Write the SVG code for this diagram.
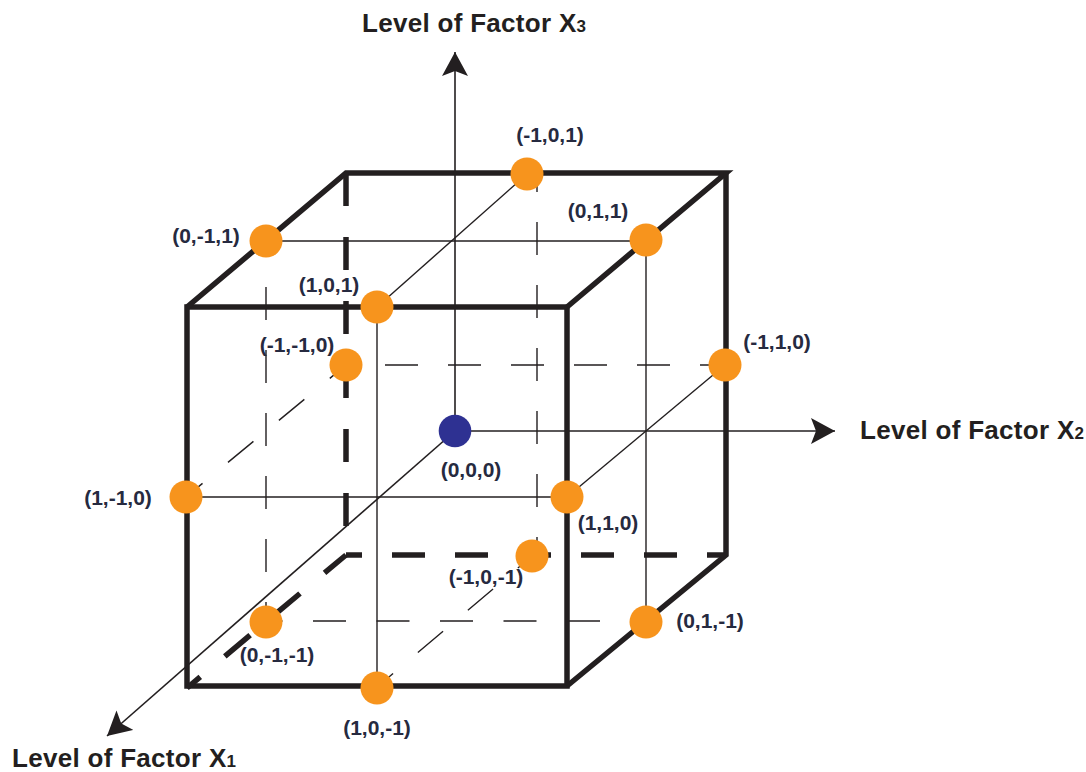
<svg xmlns="http://www.w3.org/2000/svg" width="1086" height="772" viewBox="0 0 1086 772">
  <style>
    .thin { stroke: #231f20; stroke-width: 1.4; fill: none; }
    .dash { stroke: #231f20; stroke-width: 1.4; fill: none; stroke-dasharray: 33 30; }
    .axis { stroke: #231f20; stroke-width: 1.6; fill: none; marker-end: url(#arrow); }
    .edge { stroke: #231f20; stroke-width: 5.5; fill: none; stroke-linejoin: miter; }
    .hidden { stroke: #231f20; stroke-width: 5.5; fill: none; }
    .pt { fill: #f7941d; }
    .origin { fill: #2e3192; }
    .lbl { font-family: "Liberation Sans", Arial, sans-serif; font-weight: bold; font-size: 21px; fill: #262a40; text-anchor: middle; }
    .title { font-family: "Liberation Sans", Arial, sans-serif; font-weight: bold; font-size: 26px; fill: #231f20; letter-spacing: 0.3px; }
    .sub { font-size: 17px; }
  </style>
  <defs>
    <marker id="arrow" markerUnits="userSpaceOnUse" viewBox="0 0 24 26" refX="24" refY="13" markerWidth="24" markerHeight="26" orient="auto">
      <path d="M0,0 L24,13 L0,26 L5,13 Z" fill="#231f20"/>
    </marker>
  </defs>

  <g id="connectors">
    <!-- thin solid grid lines -->
    <line class="thin" x1="266" y1="241" x2="646" y2="241"/>
    <line class="thin" x1="646" y1="241" x2="646" y2="622"/>
    <line class="thin" x1="377" y1="307" x2="377" y2="688"/>
    <line class="thin" x1="186" y1="497" x2="567" y2="497"/>
    <line class="thin" x1="527" y1="174" x2="377" y2="307"/>
    <line class="thin" x1="725" y1="365" x2="567" y2="497"/>
    <!-- thin dashed hidden grid lines -->
    <line class="dash" x1="266" y1="241" x2="266" y2="622" stroke-dashoffset="17"/>
    <line class="dash" x1="346" y1="365" x2="726" y2="365" stroke-dashoffset="24"/>
    <line class="dash" x1="537" y1="173" x2="537" y2="556" stroke-dashoffset="14"/>
    <line class="dash" x1="266" y1="621" x2="646" y2="621" stroke-dashoffset="16.5" style="stroke-dasharray:33 30.5"/>
    <line class="dash" x1="346" y1="365" x2="186" y2="497" stroke-dashoffset="12" style="stroke-dasharray:33 33"/>
    <line class="dash" x1="532" y1="556" x2="376" y2="688" stroke-dashoffset="14.5" style="stroke-dasharray:33 32.5"/>
    <!-- axes -->
    <line class="axis" x1="455" y1="431" x2="455" y2="52"/>
    <line class="axis" x1="455" y1="431" x2="835" y2="431"/>
    <line class="axis" x1="455" y1="431" x2="107" y2="736"/>
  </g>

  <g id="cube">
    <rect class="edge" x="187" y="307" width="380" height="379"/>
    <polyline class="edge" points="187,307 346,173 726,173 567,307"/>
    <polyline class="edge" points="726,173 726,555 567,686"/>
    <line class="hidden" x1="346" y1="173" x2="346" y2="555" style="stroke-dasharray:33 31"/>
    <line class="hidden" x1="346" y1="555" x2="726" y2="555" style="stroke-dasharray:33 30" stroke-dashoffset="17"/>
    <line class="hidden" x1="346" y1="555" x2="187" y2="688" style="stroke-dasharray:33 32" stroke-dashoffset="5"/>
  </g>

  <g id="p-m1-0-1"><circle class="pt" cx="527" cy="174" r="16.5"/><text class="lbl" x="550" y="142">(-1,0,1)</text></g>
  <g id="p-0-m1-1"><circle class="pt" cx="266" cy="241" r="16.5"/><text class="lbl" x="206" y="243">(0,-1,1)</text></g>
  <g id="p-0-1-1"><circle class="pt" cx="646" cy="240" r="16.5"/><text class="lbl" x="598" y="218">(0,1,1)</text></g>
  <g id="p-1-0-1"><circle class="pt" cx="377" cy="307" r="16.5"/><text class="lbl" x="329" y="292">(1,0,1)</text></g>
  <g id="p-m1-m1-0"><circle class="pt" cx="346" cy="365" r="16.5"/><text class="lbl" x="297" y="352">(-1,-1,0)</text></g>
  <g id="p-m1-1-0"><circle class="pt" cx="725" cy="365" r="16.5"/><text class="lbl" x="777" y="349">(-1,1,0)</text></g>
  <g id="p-0-0-0"><circle class="origin" cx="455" cy="431" r="16.3"/><text class="lbl" x="471" y="477">(0,0,0)</text></g>
  <g id="p-1-m1-0"><circle class="pt" cx="186" cy="497" r="16.5"/><text class="lbl" x="118" y="505">(1,-1,0)</text></g>
  <g id="p-1-1-0"><circle class="pt" cx="567" cy="497" r="16.5"/><text class="lbl" x="608" y="530">(1,1,0)</text></g>
  <g id="p-m1-0-m1"><circle class="pt" cx="532" cy="556" r="16.5"/><text class="lbl" x="486" y="584">(-1,0,-1)</text></g>
  <g id="p-0-m1-m1"><circle class="pt" cx="266" cy="622" r="16.5"/><text class="lbl" x="277" y="662">(0,-1,-1)</text></g>
  <g id="p-0-1-m1"><circle class="pt" cx="646" cy="622" r="16.5"/><text class="lbl" x="710" y="628">(0,1,-1)</text></g>
  <g id="p-1-0-m1"><circle class="pt" cx="377" cy="688" r="16.5"/><text class="lbl" x="377" y="735">(1,0,-1)</text></g>

  <g id="axis-x3-label"><text class="title" x="362" y="32">Level of Factor X<tspan class="sub">3</tspan></text></g>
  <g id="axis-x2-label"><text class="title" x="860" y="439">Level of Factor X<tspan class="sub">2</tspan></text></g>
  <g id="axis-x1-label"><text class="title" x="12" y="767">Level of Factor X<tspan class="sub">1</tspan></text></g>
</svg>
